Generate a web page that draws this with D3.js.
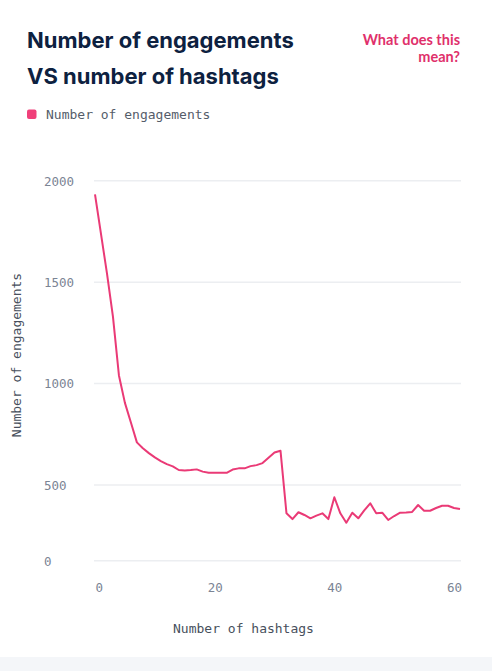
<html>
<head>
<meta charset="utf-8">
<style>
  body { margin: 0; background: #fff; }
  .title { font-family: Inter, Lato, sans-serif; font-weight: 700; font-size: 22px; fill: #0d2140; }
  .help { font-family: Lato, "Open Sans", sans-serif; font-weight: 700; font-size: 14.5px; fill: #e0306b; text-anchor: end; }
  .mono { font-family: "DejaVu Sans Mono", monospace; }
  .grid line { stroke: #eceef1; stroke-width: 1.5px; }
  .tick text { font-family: "DejaVu Sans Mono", monospace; font-size: 12.5px; fill: #7b8494; }
  .series { fill: none; stroke: #ea3a76; stroke-width: 2px; stroke-linejoin: round; }
</style>
</head>
<body>
<script src="https://cdn.jsdelivr.net/npm/d3@7/dist/d3.min.js"></script>
<script>

// number of hashtags 0..61 and engagements
var hashtags = d3.range(0, 62);
var engagements = [
  1933, 1738, 1543, 1330, 1040, 905, 808, 710, 681, 657,
  636, 618, 603, 592, 574, 572, 574, 577, 566, 560,
  560, 560, 560, 576, 582, 582, 593, 598, 608, 634,
  660, 669, 313, 275, 320, 302, 280, 298, 313, 275,
  419, 313, 251, 317, 280, 332, 379, 313, 317, 269,
  295, 317, 319, 322, 368, 330, 330, 348, 363, 363,
  348, 341
];
var yTicks = [0, 500, 1000, 1500, 2000];
var xTicks = [0, 20, 40, 60];

var W = 492, H = 671;

var svg = d3.select("body").append("svg")
  .attr("width", W)
  .attr("height", H);

// grey band at the very bottom
svg.append("rect")
  .attr("x", 0).attr("y", 657)
  .attr("width", W).attr("height", H - 657)
  .attr("fill", "#f4f6f9");

// title
svg.append("text").attr("class", "title").attr("x", 27).attr("y", 48).text("Number of engagements");
svg.append("text").attr("class", "title").attr("x", 27).attr("y", 84).text("VS number of hashtags");

svg.append("text").attr("class", "help").attr("x", 460).attr("y", 45).text("What does this");
svg.append("text").attr("class", "help").attr("x", 460).attr("y", 62).text("mean?");

// legend
svg.append("rect")
  .attr("x", 27).attr("y", 109.5)
  .attr("width", 9.5).attr("height", 9.5)
  .attr("rx", 2)
  .attr("fill", "#f0407a");
svg.append("text")
  .attr("class", "mono")
  .attr("x", 46).attr("y", 119)
  .style("font-size", "13px")
  .style("fill", "#555d6a")
  .text("Number of engagements");

// scales; the chart's y axis squeezes 0-500 into a shorter band
var x = d3.scaleLinear().domain([0, 61]).range([95, 460]);
var y = d3.scaleLinear().domain([0, 500, 2000]).range([560.7, 485, 180.7]);

// horizontal grid
svg.append("g")
  .attr("class", "grid")
  .selectAll("line")
  .data(yTicks)
  .enter().append("line")
    .attr("x1", 94).attr("x2", 461)
    .attr("y1", function(d) { return y(d); })
    .attr("y2", function(d) { return y(d); });

// y axis labels
svg.append("g")
  .attr("transform", "translate(44,0)")
  .call(d3.axisLeft(y).tickValues(yTicks).tickFormat(d3.format("d")).tickSize(0).tickPadding(0))
  .call(function(g) { g.select(".domain").remove(); })
  .selectAll("text")
    .attr("text-anchor", "start")
    .attr("dy", "0.35em");

// x axis labels
svg.append("g")
  .attr("transform", "translate(0,583)")
  .call(d3.axisBottom(x).tickValues(xTicks).tickFormat(d3.format("d")).tickSize(0).tickPadding(0))
  .call(function(g) { g.select(".domain").remove(); })
  .selectAll("text")
    .attr("dy", "0.71em")
    .attr("text-anchor", function(d) { return d === 0 ? "start" : "middle"; });

// axis titles
svg.append("text")
  .attr("class", "mono")
  .attr("x", 243.5).attr("y", 633)
  .attr("text-anchor", "middle")
  .style("font-size", "13px")
  .style("fill", "#474f5c")
  .text("Number of hashtags");

svg.append("text")
  .attr("class", "mono")
  .attr("transform", "translate(21,355) rotate(-90)")
  .attr("text-anchor", "middle")
  .style("font-size", "13px")
  .style("fill", "#474f5c")
  .text("Number of engagements");

// the line
var line = d3.line()
  .x(function(d, i) { return x(hashtags[i]); })
  .y(function(d) { return y(d); });

svg.append("path")
  .attr("class", "series")
  .attr("d", line(engagements));

</script>
</body>
</html>
